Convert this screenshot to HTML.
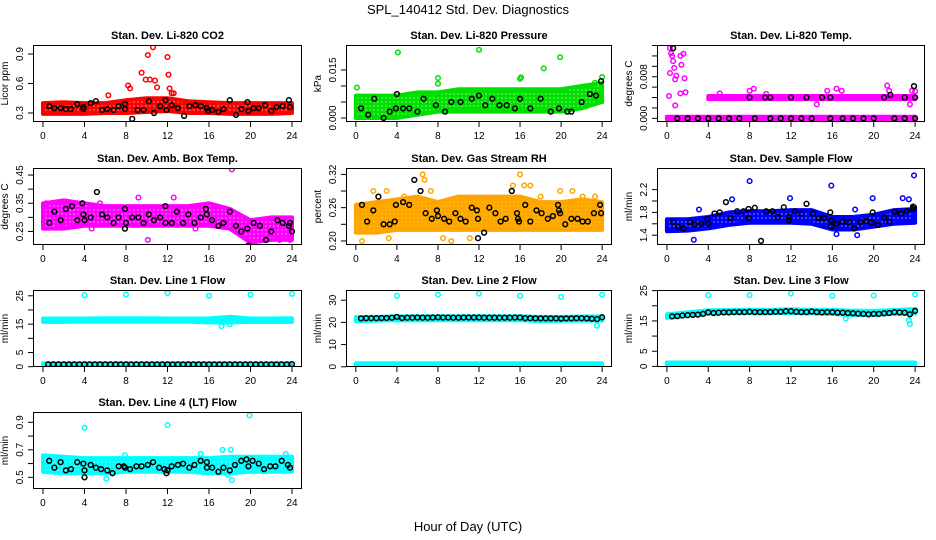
<!DOCTYPE html>
<html><head><meta charset="utf-8"><style>
html,body{margin:0;padding:0;background:#fff;}
svg{display:block;font-family:"Liberation Sans",sans-serif;}
</style></head><body>
<svg id="chart" width="936" height="540" viewBox="0 0 936 540" xmlns="http://www.w3.org/2000/svg">
<defs id="defs"></defs>
<text x="468" y="14" text-anchor="middle" font-size="13">SPL_140412  Std. Dev. Diagnostics</text>
<text x="468" y="531" text-anchor="middle" font-size="13">Hour of Day (UTC)</text>
</svg>
<script>
// ---- data ----
const xTicks = [0,4,8,12,16,20,24];
const bandHours = [0,2,4,6,8,10,12,14,16,18,20,22,24];

// Panel 1: CO2
const co2BandLo = [0.29,0.29,0.29,0.30,0.30,0.31,0.32,0.30,0.30,0.29,0.29,0.29,0.30];
const co2BandHi = [0.40,0.41,0.40,0.40,0.43,0.45,0.45,0.42,0.41,0.40,0.40,0.40,0.40];
const co2OutX = [8.2,8.4,9.5,9.9,10.1,10.3,10.6,10.8,11,12,12.1,12.2,12.4,6.3,12.6];
const co2OutY = [0.58,0.55,0.71,0.64,0.89,0.64,0.97,0.63,0.56,0.87,0.69,0.55,0.50,0.48,0.50];
const co2BlackX = [0.6,1.1,1.7,2.2,2.7,3.3,3.9,3.9,4.6,5.1,5.7,6.2,6.8,7.3,7.9,7.9,8.6,9.1,9.7,10.2,10.7,11.3,11.8,11.9,12.4,13,13.6,14.1,14.7,15.2,15.8,15.9,16.3,16.9,17.4,18,18.6,19.1,19.7,19.8,20.3,20.8,21.4,22,22.5,23.1,23.7,23.8];
const co2BlackY = [0.37,0.35,0.35,0.34,0.34,0.39,0.36,0.34,0.40,0.42,0.33,0.34,0.33,0.37,0.39,0.34,0.24,0.33,0.33,0.42,0.30,0.37,0.43,0.33,0.38,0.35,0.27,0.37,0.38,0.37,0.35,0.32,0.33,0.31,0.34,0.43,0.28,0.34,0.41,0.32,0.35,0.35,0.38,0.32,0.36,0.37,0.43,0.36];
const co2Ticks = [0.3,0.6,0.9];

// Panel 2: Pressure
const presBandLo = [0,0,0,0.001,0.002,0.002,0.002,0.002,0.002,0.002,0.002,0.003,0.005];
const presBandHi = [0.007,0.007,0.007,0.008,0.008,0.009,0.009,0.009,0.009,0.009,0.009,0.010,0.011];
const presOutX = [0.1,4.1,8,8,12,16,16.1,18.3,19.9,23.3,24];
const presOutY = [0.0095,0.0205,0.0125,0.0107,0.0213,0.0122,0.0127,0.0155,0.019,0.011,0.0128];
const presBlackX = [0.5,1.2,1.8,2.7,3.3,3.9,4,4.6,5.2,6,6.6,7.8,8.7,9.3,10.2,11.3,12,12.6,13.3,14,14.7,15.5,16,17,18,19,19.8,20.6,21,22,22.8,23.4,23.9];
const presBlackY = [0.003,0.001,0.006,0.0,0.002,0.003,0.0075,0.003,0.003,0.002,0.006,0.004,0.002,0.005,0.005,0.006,0.007,0.004,0.006,0.004,0.004,0.003,0.006,0.003,0.006,0.002,0.003,0.002,0.002,0.005,0.0075,0.007,0.0115];
const presTicks = [0,0.005,0.010,0.015];
const presLabels = ["0.000","","","0.015"];

// Panel 3: Li-820 Temp
const tempBandAHours = [0,24];
const tempBandALo = [-0.0002,-0.0002];
const tempBandAHi = [0.0003,0.0003];
const tempBandBHours = [4,24];
const tempBandBLo = [0.0037,0.0037];
const tempBandBHi = [0.0043,0.0043];
const tempOutX = [0.3,0.4,0.5,0.6,0.7,0.3,0.8,1.3,1.6,1.7,1.3,1.4,1.8,0.9,0.2,0.8,5.1,8,8.4,9.6,14.5,15.5,16.4,16.9,21.3,21.5,23.5,23.7,24];
const tempOutY = [0.0135,0.0125,0.012,0.011,0.0097,0.0087,0.0075,0.012,0.0124,0.0077,0.0048,0.0103,0.0050,0.0082,0.0043,0.0025,0.0048,0.0053,0.0057,0.0047,0.0027,0.0053,0.0057,0.0053,0.0063,0.0053,0.0027,0.0053,0.0052];
const tempBlackX = [1,2,3,4,5,6,7,8.5,10,11,12,13,14,15.8,17,18,19,20,22,23,24,8,9.5,10,12,13.5,15,15.8,21,23,24,0.6,21.6,23.9];
const tempBlackY = [0,0,0,0,0,0,0,0,0,0,0,0,0,0,0,0,0,0,0,0,0,0.004,0.004,0.004,0.004,0.004,0.004,0.004,0.004,0.004,0.004,0.0135,0.0045,0.0062];
const tempTicks = [0,0.002,0.004,0.006,0.008,0.010,0.012,0.014];
const tempLabels = ["0.000","","","","0.008","","",""];

// Panel 4: Amb box temp
const boxBandLo = [0.26,0.26,0.27,0.27,0.27,0.27,0.27,0.27,0.27,0.26,0.21,0.22,0.22];
const boxBandHi = [0.35,0.36,0.35,0.34,0.34,0.34,0.34,0.34,0.35,0.33,0.29,0.30,0.30];
const boxOutX = [18.2,10.1,9.2,12.6,5.5,4.7,14.7,0.3,1.6,22.8,23.8];
const boxOutY = [0.47,0.22,0.37,0.37,0.35,0.26,0.26,0.35,0.27,0.22,0.22];
const boxBlackX = [0.6,1.1,1.7,2.2,2.8,3.3,3.8,3.9,4,4.6,5.2,5.7,6.2,6.8,7.3,7.9,7.9,8,8.6,9.2,9.7,10.2,10.7,11.3,11.8,11.8,12.4,12.9,13.5,14,14.6,15.2,15.7,15.8,16.3,16.9,17.4,18,18.6,19.1,19.7,19.8,20.3,20.9,21.5,22,22.6,23.1,23.7,23.8,24];
const boxBlackY = [0.28,0.32,0.29,0.33,0.34,0.29,0.35,0.31,0.29,0.30,0.39,0.31,0.30,0.28,0.30,0.26,0.33,0.28,0.30,0.30,0.28,0.31,0.29,0.30,0.34,0.28,0.28,0.32,0.28,0.31,0.28,0.30,0.33,0.31,0.29,0.27,0.28,0.32,0.27,0.25,0.26,0.20,0.28,0.27,0.22,0.25,0.29,0.28,0.27,0.28,0.25];
const boxTicks = [0.25,0.30,0.35,0.40,0.45];
const boxLabels = ["0.25","","0.35","","0.45"];

// Panel 5: RH
const rhBandLo = [0.215,0.215,0.22,0.22,0.22,0.22,0.22,0.22,0.22,0.22,0.22,0.22,0.22];
const rhBandHi = [0.265,0.27,0.275,0.28,0.27,0.28,0.28,0.28,0.28,0.27,0.27,0.275,0.27];
const rhOutX = [0.6,1.7,3,6.5,6.7,7.3,15.3,16,16.4,17,18,19.9,21.1,22.1,23.3,8.5,9.3,11.1,0.3,4.7,3.2];
const rhOutY = [0.20,0.29,0.29,0.32,0.31,0.29,0.30,0.32,0.30,0.30,0.28,0.29,0.29,0.28,0.28,0.205,0.20,0.205,0.26,0.28,0.205];
const rhBlackX = [0.6,1.1,1.7,2.2,2.7,3.3,3.8,3.9,4.6,5.2,5.7,6.3,6.8,7.4,7.9,8,8.6,9.1,9.7,10.2,10.7,11.3,11.8,11.9,11.9,12.5,13,13.6,14.1,14.6,15.2,15.7,15.8,15.9,16.5,17,17.6,18.1,18.7,19.2,19.7,19.8,19.9,20.4,21,21.6,22.1,22.6,23.2,23.8,23.9];
const rhBlackY = [0.265,0.235,0.255,0.28,0.23,0.23,0.235,0.265,0.27,0.265,0.31,0.29,0.25,0.24,0.255,0.245,0.24,0.235,0.25,0.24,0.235,0.26,0.255,0.24,0.205,0.215,0.26,0.25,0.235,0.24,0.29,0.25,0.24,0.235,0.265,0.235,0.255,0.25,0.24,0.245,0.265,0.255,0.25,0.23,0.24,0.24,0.235,0.235,0.25,0.265,0.25];
const rhTicks = [0.20,0.23,0.26,0.29,0.32];
const rhLabels = ["0.20","","0.26","","0.32"];

// Panel 6: Sample flow
const sfBandLo = [1.47,1.48,1.52,1.58,1.62,1.62,1.62,1.6,1.5,1.5,1.55,1.6,1.62];
const sfBandHi = [1.68,1.68,1.72,1.8,1.82,1.82,1.84,1.84,1.72,1.72,1.76,1.84,1.86];
const sfOutX = [8,15.9,23.9,11.9,19.9,22.8,23.4,2.6,6.3,16.4,18.4,18.2,3.1,4.5];
const sfOutY = [2.35,2.27,2.45,2.05,2.05,2.05,2.03,1.32,2.03,1.42,1.40,1.85,1.85,1.55];
const sfBlackX = [0.6,1.1,1.6,2.2,2.7,3.3,3.9,4,4.6,5.1,5.7,6.2,6.8,7.4,7.9,7.9,8.5,9.1,9.6,10.2,10.7,11.3,11.8,11.8,12.4,13,13.5,14.1,14.7,15.2,15.8,15.9,15.9,16.4,17,17.6,18.1,18.7,19.3,19.8,19.9,20.4,21,21.5,22,22.6,23.2,23.8,23.8,23.9];
const sfBlackY = [1.63,1.54,1.52,1.63,1.59,1.6,1.68,1.6,1.78,1.8,1.98,1.7,1.82,1.82,1.86,1.7,1.88,1.3,1.82,1.82,1.72,1.89,1.72,1.66,1.82,1.78,1.95,1.78,1.7,1.7,1.8,1.66,1.55,1.6,1.64,1.62,1.52,1.63,1.65,1.62,1.8,1.58,1.71,1.64,1.81,1.78,1.82,1.86,1.9,1.89];
const sfTicks = [1.4,1.6,1.8,2.0,2.2];
const sfLabels = ["1.4","","1.8","","2.2"];

// Line flows
const lineHours = [0.5,1,1.5,2,2.5,3,3.5,4,4.5,5,5.5,6,6.5,7,7.5,8,8.5,9,9.5,10,10.5,11,11.5,12,12.5,13,13.5,14,14.5,15,15.5,16,16.5,17,17.5,18,18.5,19,19.5,20,20.5,21,21.5,22,22.5,23,23.5,24];
const l1BandALo = [15.8,15.8,15.9,15.9,15.9,15.9,15.9,15.9,15.6,15.6,15.8,15.8,15.8];
const l1BandAHi = [17.0,17.0,17.0,17.1,17.1,17.1,17.0,17.0,17.0,17.6,17.0,17.0,17.1];
const l1BandBLo = [0.2,0.2,0.2,0.2,0.2,0.2,0.2,0.2,0.2,0.2,0.2,0.2,0.2];
const l1BandBHi = [1.2,1.2,1.2,1.2,1.2,1.2,1.2,1.2,1.2,1.2,1.2,1.2,1.2];
const l1OutX = [4,8,12,16,20,24,17.2,18];
const l1OutY = [25.2,25.5,26,25,25.4,25.7,14.3,15];
const l1BlackY = [0.8,0.8,0.8,0.8,0.8,0.8,0.8,0.8,0.8,0.8,0.8,0.8,0.8,0.8,0.8,0.8,0.8,0.8,0.8,0.8,0.8,0.8,0.8,0.8,0.8,0.8,0.8,0.8,0.8,0.8,0.8,0.8,0.8,0.8,0.8,0.8,0.8,0.8,0.8,0.8,0.8,0.8,0.8,0.8,0.8,0.8,0.8,0.9];
const l1Ticks = [0,5,10,15,20,25];
const l1Labels = ["0","5","","15","","25"];

const l2BandALo = [20.6,20.8,20.9,20.9,21.0,21.0,21.0,21.0,21.0,20.6,20.7,20.8,20.8];
const l2BandAHi = [22.4,22.5,22.7,22.7,22.8,22.8,22.8,22.8,22.8,22.5,22.5,22.6,22.8];
const l2BandBLo = [0,0,0,0,0,0,0,0,0,0,0,0,0];
const l2BandBHi = [1.6,1.6,1.6,1.6,1.6,1.6,1.6,1.6,1.6,1.6,1.6,1.6,1.6];
const l2OutX = [4,8,12,16,20,24,23.5];
const l2OutY = [32,32.5,33,32,31.5,32.5,18.5];
const l2BlackY = [21.8,21.9,21.9,21.9,22.0,22.0,22.1,22.5,22.0,22.1,22.1,22.2,22.1,22.1,22.2,22.3,22.2,22.2,22.1,22.1,22.2,22.2,22.2,22.2,22.1,22.1,22.1,22.1,22.1,22.1,22.2,22.2,21.9,21.9,21.8,21.8,21.8,21.8,21.8,21.7,21.8,21.8,21.9,21.9,21.8,21.6,21.5,22.3];
const l2Ticks = [0,10,20,30];
const l2Labels = ["0","10","20","30"];

const l3BandALo = [16.0,16.8,17.4,17.6,17.6,17.6,17.6,17.5,17.3,17.0,17.0,17.3,17.4];
const l3BandAHi = [17.2,17.8,18.5,18.6,18.7,18.7,18.8,18.7,18.6,18.4,18.3,18.6,18.9];
const l3BandBLo = [0.3,0.3,0.3,0.3,0.3,0.3,0.3,0.3,0.3,0.3,0.3,0.3,0.3];
const l3BandBHi = [1.3,1.3,1.3,1.3,1.3,1.3,1.3,1.3,1.3,1.3,1.3,1.3,1.3];
const l3OutX = [4,8,12,16,20,24,17.3,23.4,23.5,0.2];
const l3OutY = [23.5,23.5,24,23.3,23.4,23.7,15.8,15.2,14,16.8];
const l3BlackY = [16.5,16.6,16.8,16.9,17.0,17.1,17.3,17.8,17.6,17.7,17.8,17.8,17.9,17.9,17.9,18.0,17.9,17.9,17.9,17.9,18.0,18.0,18.2,18.2,18.0,17.9,17.9,18.1,17.9,17.8,17.9,17.9,17.7,17.7,17.6,17.5,17.4,17.3,17.2,17.3,17.3,17.5,17.6,17.9,17.8,17.7,17.2,18.3];
const l3Ticks = [0,5,10,15,20,25];
const l3Labels = ["0","5","","15","","25"];

const l4BandLo = [0.54,0.53,0.53,0.53,0.54,0.54,0.54,0.54,0.53,0.53,0.54,0.54,0.54];
const l4BandHi = [0.66,0.65,0.64,0.64,0.64,0.64,0.64,0.64,0.64,0.65,0.65,0.65,0.65];
const l4OutX = [4,12,19.9,17.3,18.1,18.2,15.2,7.9,23.4,6.1,0.2,17.8];
const l4OutY = [0.86,0.88,0.95,0.70,0.70,0.48,0.67,0.66,0.67,0.49,0.58,0.52];
const l4BlackX = [0.6,1.1,1.7,2.2,2.7,3.3,3.9,4,4,4.6,5.1,5.6,6.2,6.7,7.3,7.8,7.9,8.4,9,9.5,10.1,10.6,11.2,11.7,11.9,12,12.4,13,13.5,14.1,14.6,15.2,15.8,15.8,16.3,16.9,17.4,18,18.5,19.1,19.6,19.8,20.2,20.8,21.3,21.9,22.4,23,23.6,23.8];
const l4BlackY = [0.62,0.57,0.61,0.55,0.56,0.61,0.60,0.55,0.50,0.59,0.57,0.56,0.55,0.53,0.58,0.58,0.57,0.56,0.58,0.58,0.59,0.61,0.57,0.56,0.53,0.55,0.58,0.59,0.60,0.57,0.59,0.62,0.61,0.57,0.57,0.54,0.57,0.55,0.59,0.62,0.63,0.58,0.62,0.60,0.56,0.58,0.58,0.62,0.59,0.57];
const l4Ticks = [0.5,0.6,0.7,0.8,0.9];
const l4Labels = ["0.5","","0.7","","0.9"];

// ---- layout / drawing ----
const NS = "http://www.w3.org/2000/svg";
const svg = document.getElementById('chart');
const defs = document.getElementById('defs');
const colL = [33,346,657], colW = [269,266,268];
const rowT = [45,168,290,412], boxH = 77;

function mk(tag, attrs, parent){
  const e = document.createElementNS(NS, tag);
  for (const k in attrs) e.setAttribute(k, attrs[k]);
  (parent||svg).appendChild(e);
  return e;
}

const panels = [
 {name:'co2',title:'Stan. Dev. Li-820 CO2',ylab:'Licor ppm',col:0,row:0,ymin:0.208,ymax:0.992,ticks:co2Ticks,labels:null,color:'#ff0000',fill:'#ff0000',
  bands:[[bandHours,co2BandLo,co2BandHi]],outX:co2OutX,outY:co2OutY,bx:co2BlackX,by:co2BlackY},
 {name:'pressure',title:'Stan. Dev. Li-820 Pressure',ylab:'kPa',col:1,row:0,ymin:-0.00125,ymax:0.0228,ticks:presTicks,labels:presLabels,color:'#00e000',fill:'#00e000',
  bands:[[bandHours,presBandLo,presBandHi]],outX:presOutX,outY:presOutY,bx:presBlackX,by:presBlackY},
 {name:'li820-temp',title:'Stan. Dev. Li-820 Temp.',ylab:'degrees C',col:2,row:0,ymin:-0.0007,ymax:0.0141,ticks:tempTicks,labels:tempLabels,color:'#ff00ff',fill:'#ff00ff',
  bands:[[tempBandAHours,tempBandALo,tempBandAHi],[tempBandBHours,tempBandBLo,tempBandBHi]],outX:tempOutX,outY:tempOutY,bx:tempBlackX,by:tempBlackY},
 {name:'amb-box-temp',title:'Stan. Dev. Amb. Box Temp.',ylab:'degrees C',col:0,row:1,ymin:0.202,ymax:0.475,ticks:boxTicks,labels:boxLabels,color:'#ff00ff',fill:'#ff00ff',
  bands:[[bandHours,boxBandLo,boxBandHi]],outX:boxOutX,outY:boxOutY,bx:boxBlackX,by:boxBlackY},
 {name:'gas-stream-rh',title:'Stan. Dev. Gas Stream RH',ylab:'percent',col:1,row:1,ymin:0.1927,ymax:0.3315,ticks:rhTicks,labels:rhLabels,color:'#ffa500',fill:'#ffe000',
  bands:[[bandHours,rhBandLo,rhBandHi]],outX:rhOutX,outY:rhOutY,bx:rhBlackX,by:rhBlackY},
 {name:'sample-flow',title:'Stan. Dev. Sample Flow',ylab:'ml/min',col:2,row:1,ymin:1.228,ymax:2.579,ticks:sfTicks,labels:sfLabels,color:'#0000ff',fill:'#0000ff',
  bands:[[bandHours,sfBandLo,sfBandHi]],outX:sfOutX,outY:sfOutY,bx:sfBlackX,by:sfBlackY},
 {name:'line1-flow',title:'Stan. Dev. Line 1 Flow',ylab:'ml/min',col:0,row:2,ymin:-0.1,ymax:27.04,ticks:l1Ticks,labels:l1Labels,color:'#00ffff',fill:'#00ffff',
  bands:[[bandHours,l1BandALo,l1BandAHi],[bandHours,l1BandBLo,l1BandBHi]],outX:l1OutX,outY:l1OutY,bx:lineHours,by:l1BlackY},
 {name:'line2-flow',title:'Stan. Dev. Line 2 Flow',ylab:'ml/min',col:1,row:2,ymin:-0.1,ymax:34.6,ticks:l2Ticks,labels:l2Labels,color:'#00ffff',fill:'#00ffff',
  bands:[[bandHours,l2BandALo,l2BandAHi],[bandHours,l2BandBLo,l2BandBHi]],outX:l2OutX,outY:l2OutY,bx:lineHours,by:l2BlackY},
 {name:'line3-flow',title:'Stan. Dev. Line 3 Flow',ylab:'ml/min',col:2,row:2,ymin:-0.2,ymax:25.2,ticks:l3Ticks,labels:l3Labels,color:'#00ffff',fill:'#00ffff',
  bands:[[bandHours,l3BandALo,l3BandAHi],[bandHours,l3BandBLo,l3BandBHi]],outX:l3OutX,outY:l3OutY,bx:lineHours,by:l3BlackY},
 {name:'line4-flow',title:'Stan. Dev. Line 4 (LT) Flow',ylab:'ml/min',col:0,row:3,ymin:0.415,ymax:0.975,ticks:l4Ticks,labels:l4Labels,color:'#00ffff',fill:'#00ffff',
  bands:[[bandHours,l4BandLo,l4BandHi]],outX:l4OutX,outY:l4OutY,bx:l4BlackX,by:l4BlackY}
];

panels.forEach(p=>{
  const L = colL[p.col], W = colW[p.col], T = rowT[p.row], B = T + boxH;
  const xs = v => L + (v + 0.96) / 25.92 * W;
  const ys = v => B - (v - p.ymin) / (p.ymax - p.ymin) * boxH;

  // ring-texture pattern for the dense point cloud
  const patId = 'pat-' + p.name;
  const pat = mk('pattern', {id: patId, width: 4, height: 4, patternUnits: 'userSpaceOnUse'}, defs);
  mk('rect', {x:0, y:0, width:4, height:4, fill: p.color}, pat);
  mk('rect', {x:1.5, y:1.5, width:1, height:1, fill: p.fill === p.color ? '#ffffff' : p.fill}, pat);

  const g = mk('g', {});
  
  

  const clipId = 'clip-' + p.name;
  const cp = mk('clipPath', {id: clipId}, g);
  mk('rect', {x:L, y:T, width:W, height:boxH}, cp);
  const plot = mk('g', {'clip-path':'url(#'+clipId+')'}, g);

  p.bands.forEach((b, bi)=>{
    const [hs, lo, hi] = b;
    let pts = [];
    for (let i=0;i<hs.length;i++) pts.push(xs(hs[i]).toFixed(1)+','+ys(hi[i]).toFixed(1));
    for (let i=hs.length-1;i>=0;i--) pts.push(xs(hs[i]).toFixed(1)+','+ys(lo[i]).toFixed(1));
    const poly = mk('polygon', {points: pts.join(' '), fill: 'url(#'+patId+')', stroke: p.color, 'stroke-width': 4, 'stroke-linejoin':'round'}, plot);
    
    
  });
  for (let i=0;i<Math.min(p.outX.length,p.outY.length);i++){
    const c = mk('circle', {cx: xs(p.outX[i]).toFixed(1), cy: ys(p.outY[i]).toFixed(1), r: 2.3, fill:'none', stroke: p.color, 'stroke-width':1.5}, plot);
    
    
  }
  for (let i=0;i<Math.min(p.bx.length,p.by.length);i++){
    const c = mk('circle', {cx: xs(p.bx[i]).toFixed(1), cy: ys(p.by[i]).toFixed(1), r: 2.4, fill:'none', stroke:'#000', 'stroke-width':1.5}, plot);
    
    
  }
  const box = mk('rect', {x:L+0.5, y:T+0.5, width:W-1, height:boxH-1, fill:'none', stroke:'#000', 'stroke-width':1}, g);
  
  
  const t = mk('text', {x: L + W/2, y: T - 6, 'text-anchor':'middle', 'font-size':11, 'font-weight':'bold'}, g);
  t.textContent = p.title;
  
  
  xTicks.forEach(v=>{
    const x = xs(v);
    mk('line', {x1:x, x2:x, y1:B, y2:B+5, stroke:'#000', 'stroke-width':1}, g);
    const lt = mk('text', {x:x, y:B+17, 'text-anchor':'middle', 'font-size':10}, g);
    lt.textContent = v;
    
    
  });
  p.ticks.forEach((v,i)=>{
    const y = ys(v);
    mk('line', {x1:L-5, x2:L, y1:y, y2:y, stroke:'#000', 'stroke-width':1}, g);
    const lab = p.labels ? p.labels[i] : String(v);
    if (lab){
      const lt = mk('text', {x:L-10, y:y, 'text-anchor':'middle', 'font-size':10, transform:'rotate(-90 '+(L-10)+' '+y+')'}, g);
      lt.textContent = lab;
      
      
    }
  });
  const yl = mk('text', {x:L-25, y:T+boxH/2, 'text-anchor':'middle', 'font-size':10, transform:'rotate(-90 '+(L-25)+' '+(T+boxH/2)+')'}, g);
  yl.textContent = p.ylab;
  
  
});
</script>
</body></html>
